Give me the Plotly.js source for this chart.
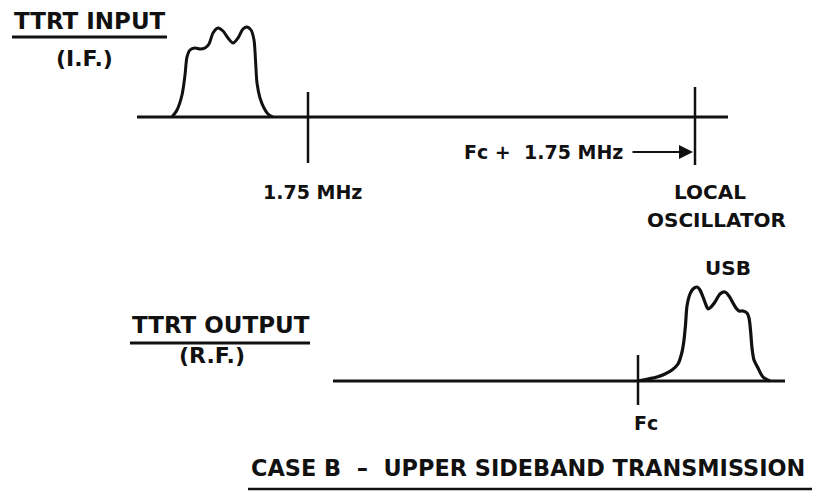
<!DOCTYPE html>
<html>
<head>
<meta charset="utf-8">
<script src="https://cdn.plot.ly/plotly-3.0.1.min.js"></script>
<style>html,body{margin:0;padding:0;background:#fff;}#chart{width:814px;height:502px;}</style>
</head>
<body>
<div id="chart"></div>
<script>
// Diagram coordinates: x = frequency position, y = vertical position (down is positive)
const inputSpectrumX = [172, 177, 182, 185, 187, 190, 195, 200, 205, 209, 213, 218, 223, 228, 233, 238, 243, 247, 251, 254, 255.5, 257, 260, 264, 268, 273];
const inputSpectrumY = [117, 110, 95, 75, 57, 50, 48, 49, 48, 44, 33, 28, 31, 38, 43, 38, 29, 27, 30, 40, 60, 83, 98, 108, 114, 117];

const outputSpectrumX = [638, 648, 657, 665, 672, 678, 682, 684, 685.5, 687, 690, 693, 697, 700, 703, 706, 708, 711, 715, 720, 725, 729, 733, 736, 739, 743, 747, 749, 750.5, 752, 754, 758, 763, 770];
const outputSpectrumY = [381, 379, 377, 374, 370, 364, 352, 340, 325, 306, 294, 289, 287, 290, 297, 305, 309, 307, 302, 294, 292, 296, 303, 308, 311, 311, 313, 318, 330, 348, 360, 368, 377, 381];

const inputAxisX = [137, 728];
const inputAxisY = [117, 117];
const outputAxisX = [333, 785];
const outputAxisY = [381, 381];

const markerIFX = [308, 308];
const markerIFY = [92, 163];
const markerLOX = [695, 695];
const markerLOY = [87, 165];
const markerFcX = [638, 638];
const markerFcY = [355, 405];

const underlineInX = [12, 167];
const underlineInY = [37, 37];
const underlineOutX = [130, 310];
const underlineOutY = [343, 343];
const underlineCaseX = [248, 812];
const underlineCaseY = [489, 489];

const labels = ["TTRT INPUT", "(I.F.)", "1.75 MHz", "Fc +  1.75 MHz", "LOCAL", "OSCILLATOR", "USB", "TTRT OUTPUT", "(R.F.)", "Fc", "CASE B  –  UPPER SIDEBAND TRANSMISSION"];

const ink = "#111";
function line(x, y, w, shape) {
  return {x: x, y: y, type: "scatter", mode: "lines", hoverinfo: "skip",
    line: {color: ink, width: w, shape: shape || "linear", smoothing: 0.8}};
}

const traces = [
  line(inputAxisX, inputAxisY, 3),
  line(outputAxisX, outputAxisY, 3),
  line(markerIFX, markerIFY, 2.5),
  line(markerLOX, markerLOY, 2.5),
  line(markerFcX, markerFcY, 2.5),
  line(inputSpectrumX, inputSpectrumY, 3, "spline"),
  line(outputSpectrumX, outputSpectrumY, 3.2, "spline"),
  line(underlineInX, underlineInY, 3),
  line(underlineOutX, underlineOutY, 3),
  line(underlineCaseX, underlineCaseY, 2.5)
];

const F = "DejaVu Sans";
function txt(t, x, y, size, xanchor) {
  return {text: "<b>" + t + "</b>", x: x, y: y, xref: "x", yref: "y", showarrow: false,
    xanchor: xanchor || "center", yanchor: "middle", font: {family: F, size: size, color: ink}};
}

const annotations = [
  txt(labels[0], 12, 21, 23, "left"),
  txt(labels[1], 84, 58, 22),
  txt(labels[2], 312, 192, 19),
  txt(labels[3], 625, 152, 19, "right"),
  txt(labels[4], 710, 192, 20),
  txt(labels[5], 716, 220, 20),
  txt(labels[6], 728, 268, 20),
  txt(labels[7], 130, 325, 23, "left"),
  txt(labels[8], 212, 355, 22),
  txt(labels[9], 646, 423, 19),
  txt(labels[10], 249, 468, 22.4, "left"),
  {x: 693, y: 152, ax: 631, ay: 152, xref: "x", yref: "y", axref: "x", ayref: "y",
   showarrow: true, arrowhead: 2, arrowsize: 1.4, arrowwidth: 2, arrowcolor: ink, text: ""}
];

const layout = {
  width: 814, height: 502,
  margin: {l: 0, r: 0, t: 0, b: 0},
  paper_bgcolor: "#fff", plot_bgcolor: "#fff",
  showlegend: false,
  xaxis: {range: [0, 814], visible: false, fixedrange: true},
  yaxis: {range: [502, 0], visible: false, fixedrange: true},
  annotations: annotations
};

Plotly.newPlot("chart", traces, layout, {staticPlot: true, displayModeBar: false});
</script>
</body>
</html>
